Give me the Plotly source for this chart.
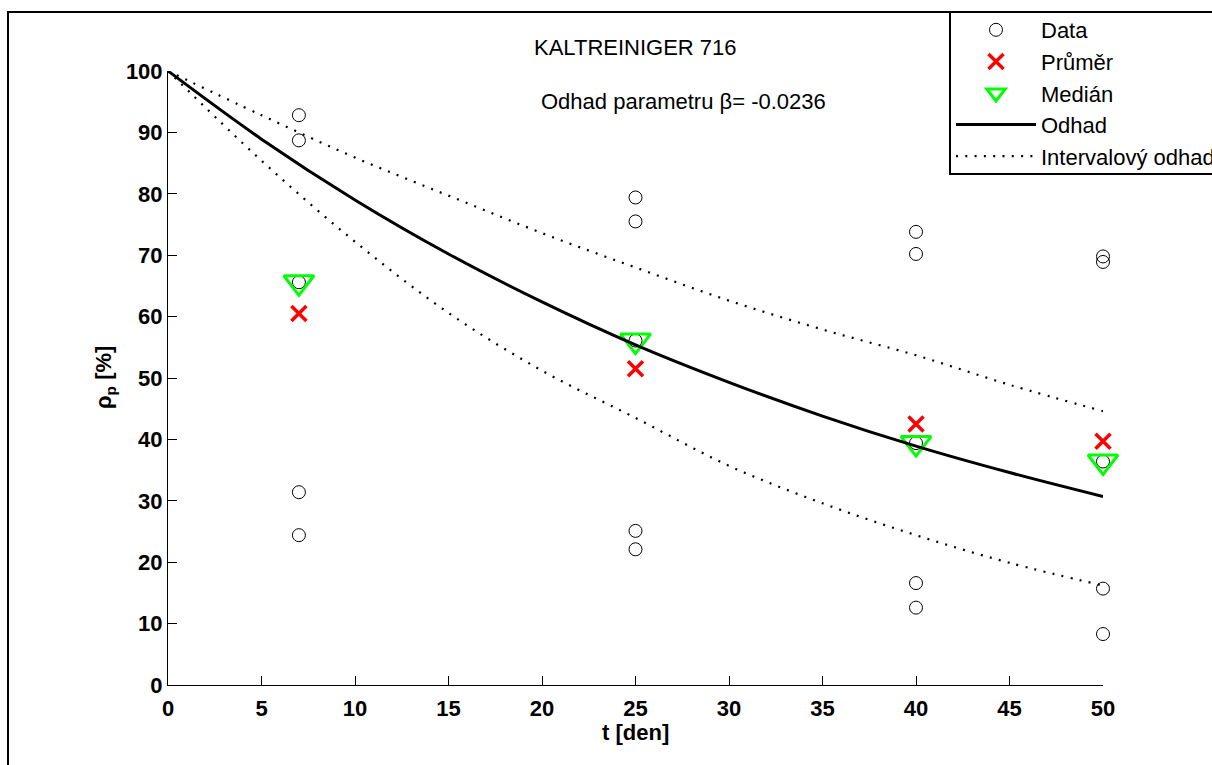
import plotly.graph_objects as go

# ---- data ----
days = [7, 25, 40, 50]
data_day7 = [92.8, 88.7, 65.6, 31.4, 24.4]
data_day25 = [79.4, 75.5, 56.1, 25.1, 22.1]
data_day40 = [73.8, 70.2, 39.4, 16.6, 12.6]
data_day50 = [69.8, 68.9, 36.4, 15.7, 8.3]
mean_vals = [60.5, 51.5, 42.5, 39.7]
median_vals = [65.6, 56.1, 39.4, 36.4]

t_curve = [0, 5, 10, 15, 20, 25, 30, 35, 40, 45, 50]
fit_vals = [100, 88.9, 79.0, 70.2, 62.4, 55.4, 49.3, 43.8, 38.9, 34.6, 30.7]
upper_vals = [100, 92.8, 85.9, 79.7, 73.6, 68.0, 62.6, 57.9, 53.7, 48.9, 44.6]
lower_vals = [100, 85.4, 72.2, 60.6, 51.2, 43.5, 35.7, 29.6, 24.4, 19.9, 16.2]

title_text = "KALTREINIGER 716"
beta_text = "Odhad parametru \u03b2= -0.0236"
x_ticks = [0, 5, 10, 15, 20, 25, 30, 35, 40, 45, 50]
y_ticks = [0, 10, 20, 30, 40, 50, 60, 70, 80, 90, 100]

FONT = "Liberation Sans, Arial, sans-serif"

data_x = []
data_y = []
for d, vals in zip(days, [data_day7, data_day25, data_day40, data_day50]):
    data_x += [d] * len(vals)
    data_y += vals

fig = go.Figure()
fig.add_trace(go.Scatter(
    x=data_x, y=data_y, mode="markers", name="Data", cliponaxis=False,
    marker=dict(symbol="circle-open", size=13, color="black", line=dict(width=1, color="black")),
))
fig.add_trace(go.Scatter(
    x=days, y=mean_vals, mode="markers", name="Pr\u016fm\u011br", cliponaxis=False,
    marker=dict(symbol="x-thin-open", size=15, color="#ff0000", line=dict(width=3.5, color="#ff0000")),
))
fig.add_trace(go.Scatter(
    x=days, y=median_vals, mode="markers", name="Medi\u00e1n", cliponaxis=False,
    marker=dict(symbol="triangle-down-open", size=26, color="#00ff00", line=dict(width=3, color="#00ff00")),
))
fig.add_trace(go.Scatter(
    x=t_curve, y=fit_vals, mode="lines", name="Odhad", cliponaxis=False,
    line=dict(color="black", width=3, shape="spline"),
))
fig.add_trace(go.Scatter(
    x=t_curve, y=upper_vals, mode="lines", name="Intervalov\u00fd odhad", cliponaxis=False,
    legendgroup="int", line=dict(color="black", width=2.2, dash="2px,7.3px", shape="spline"),
))
fig.add_trace(go.Scatter(
    x=t_curve, y=lower_vals, mode="lines", name="Intervalov\u00fd odhad", cliponaxis=False,
    legendgroup="int", showlegend=False,
    line=dict(color="black", width=2.2, dash="2px,7.3px", shape="spline"),
))

L, R, T, B = 168, 109, 71, 80
W, H = 1212, 765
pw, ph = W - L - R, H - T - B

def px_x(p):
    return (p - L) / pw

def px_y(p):
    return (H - B - p) / ph

fig.update_layout(
    width=W, height=H,
    margin=dict(l=L, r=R, t=T, b=B, autoexpand=False),
    paper_bgcolor="white", plot_bgcolor="white",
    font=dict(family=FONT, color="black", size=22),
    showlegend=True,
    legend=dict(
        x=px_x(951), y=px_y(9), xanchor="left", yanchor="top",
        bgcolor="rgba(0,0,0,0)", borderwidth=0,
        font=dict(family=FONT, size=22, color="black"),
        itemwidth=80, tracegroupgap=0,
    ),
    xaxis=dict(
        range=[0, 50], tickvals=x_ticks, ticktext=[str(v) for v in x_ticks],
        showgrid=False, zeroline=False, showline=True, linecolor="black", linewidth=1,
        ticks="inside", ticklen=9, tickcolor="black", tickwidth=1,
        tickfont=dict(family=FONT, size=22, color="black", weight="bold"),
        ticklabelstandoff=4,
    ),
    yaxis=dict(
        range=[0, 100], tickvals=y_ticks, ticktext=[str(v) for v in y_ticks],
        showgrid=False, zeroline=False, showline=True, linecolor="black", linewidth=1,
        ticks="inside", ticklen=9, tickcolor="black", tickwidth=1,
        tickfont=dict(family=FONT, size=22, color="black", weight="bold"),
        ticklabelstandoff=0,
    ),
    shapes=[
        # figure frame
        dict(type="rect", xref="paper", yref="paper",
             x0=px_x(8), x1=1.6, y0=-0.5, y1=px_y(12),
             line=dict(color="black", width=2), fillcolor="rgba(0,0,0,0)", layer="below"),
        # legend box
        dict(type="rect", xref="paper", yref="paper",
             x0=px_x(950), x1=1.6, y0=px_y(174), y1=px_y(12),
             line=dict(color="black", width=2), fillcolor="white", layer="below"),
    ],
    annotations=[
        dict(text=title_text, xref="paper", yref="paper", x=0.5, y=1, xanchor="center",
             yanchor="middle", yshift=T - 47, showarrow=False,
             font=dict(family=FONT, size=22, color="black")),
        dict(text=beta_text, xref="x", yref="y", x=20, y=95, xanchor="left", yanchor="middle",
             xshift=-3, showarrow=False, font=dict(family=FONT, size=22, color="black")),
        dict(text="t [den]", xref="paper", yref="paper", x=0.5, y=0, xanchor="center",
             yanchor="middle", yshift=-(732 - (H - B)), showarrow=False,
             font=dict(family=FONT, size=22, color="black", weight="bold")),
        dict(text="\u03c1<sub>p</sub> [%]", xref="paper", yref="paper", x=0, y=0.5,
             xanchor="center", yanchor="middle", xshift=105 - L, textangle=-90, showarrow=False,
             font=dict(family=FONT, size=22, color="black", weight="bold")),
    ],
)

fig.write_html("out.html")
